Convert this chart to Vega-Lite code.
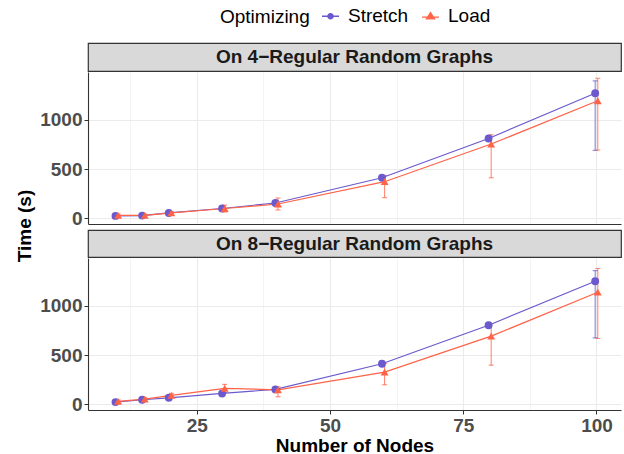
{
  "$schema": "https://vega.github.io/schema/vega-lite/v6.json",
  "padding": {"left": 15, "top": 6, "right": 2, "bottom": 2},
  "config": {
    "font": "Liberation Sans",
    "view": {"stroke": null},
    "axis": {"labelFont": "Liberation Sans", "labelFontSize": 19, "labelFontWeight": "bold", "labelColor": "#4D4D4D", "titleFont": "Liberation Sans", "titleFontSize": 19, "titleFontWeight": "bold", "titleColor": "#000000", "domainColor": "#333333", "domainWidth": 1.1, "tickColor": "#333333", "tickSize": 4, "gridColor": "#EBEBEB"},
    "legend": {"labelFont": "Liberation Sans", "titleFont": "Liberation Sans"}
  },
  "datasets": {
    "d": [
      {"graph": "4", "nodes": 10, "method": "Stretch", "time": 25, "lower": 15, "upper": 35},
      {"graph": "4", "nodes": 15, "method": "Stretch", "time": 28, "lower": 20, "upper": 36},
      {"graph": "4", "nodes": 20, "method": "Stretch", "time": 55, "lower": 45, "upper": 65},
      {"graph": "4", "nodes": 30, "method": "Stretch", "time": 100, "lower": 85, "upper": 115},
      {"graph": "4", "nodes": 40, "method": "Stretch", "time": 156, "lower": 140, "upper": 172},
      {"graph": "4", "nodes": 60, "method": "Stretch", "time": 412, "lower": 395, "upper": 430},
      {"graph": "4", "nodes": 80, "method": "Stretch", "time": 811, "lower": 785, "upper": 838},
      {"graph": "4", "nodes": 100, "method": "Stretch", "time": 1270, "lower": 690, "upper": 1395},
      {"graph": "4", "nodes": 10, "method": "Load", "time": 30, "lower": 15, "upper": 45},
      {"graph": "4", "nodes": 15, "method": "Load", "time": 30, "lower": 18, "upper": 42},
      {"graph": "4", "nodes": 20, "method": "Load", "time": 55, "lower": 40, "upper": 70},
      {"graph": "4", "nodes": 30, "method": "Load", "time": 100, "lower": 65, "upper": 135},
      {"graph": "4", "nodes": 40, "method": "Load", "time": 146, "lower": 85, "upper": 207},
      {"graph": "4", "nodes": 60, "method": "Load", "time": 372, "lower": 210, "upper": 435},
      {"graph": "4", "nodes": 80, "method": "Load", "time": 754, "lower": 412, "upper": 848},
      {"graph": "4", "nodes": 100, "method": "Load", "time": 1193, "lower": 693, "upper": 1422},
      {"graph": "8", "nodes": 10, "method": "Stretch", "time": 23, "lower": 13, "upper": 33},
      {"graph": "8", "nodes": 15, "method": "Stretch", "time": 47, "lower": 37, "upper": 57},
      {"graph": "8", "nodes": 20, "method": "Stretch", "time": 67, "lower": 55, "upper": 80},
      {"graph": "8", "nodes": 30, "method": "Stretch", "time": 111, "lower": 90, "upper": 130},
      {"graph": "8", "nodes": 40, "method": "Stretch", "time": 152, "lower": 135, "upper": 170},
      {"graph": "8", "nodes": 60, "method": "Stretch", "time": 412, "lower": 385, "upper": 440},
      {"graph": "8", "nodes": 80, "method": "Stretch", "time": 803, "lower": 780, "upper": 830},
      {"graph": "8", "nodes": 100, "method": "Stretch", "time": 1249, "lower": 675, "upper": 1357},
      {"graph": "8", "nodes": 10, "method": "Load", "time": 30, "lower": 15, "upper": 45},
      {"graph": "8", "nodes": 15, "method": "Load", "time": 54, "lower": 40, "upper": 68},
      {"graph": "8", "nodes": 20, "method": "Load", "time": 91, "lower": 70, "upper": 112},
      {"graph": "8", "nodes": 30, "method": "Load", "time": 162, "lower": 120, "upper": 203},
      {"graph": "8", "nodes": 40, "method": "Load", "time": 148, "lower": 77, "upper": 178},
      {"graph": "8", "nodes": 60, "method": "Load", "time": 327, "lower": 199, "upper": 415},
      {"graph": "8", "nodes": 80, "method": "Load", "time": 692, "lower": 398, "upper": 820},
      {"graph": "8", "nodes": 100, "method": "Load", "time": 1138, "lower": 669, "upper": 1378}
    ]
  },
  "spacing": 4,
  "hconcat": [
    {
      "width": 20, "height": 366,
      "data": {"values": [{"label": "Time (s)"}]},
      "mark": {"type": "text", "fontSize": 19, "fontWeight": "bold", "color": "#000000", "angle": 270},
      "encoding": {"text": {"field": "label", "type": "nominal"}}
    },
    {
      "spacing": 0,
      "vconcat": [
        {
          "width": 533, "height": 28,
          "view": {"fill": "#D9D9D9", "stroke": "#333333", "strokeWidth": 1.2},
          "data": {"values": [{"label": "On 4−Regular Random Graphs"}]},
          "mark": {"type": "text", "fontSize": 19, "fontWeight": "bold", "color": "#1A1A1A"},
          "encoding": {"text": {"field": "label", "type": "nominal"}}
        },
        {
          "width": 533, "height": 152,
          "data": {"name": "d"},
          "transform": [{"filter": "datum.graph === '4'"}],
          "encoding": {
            "x": {"field": "nodes", "type": "quantitative", "scale": {"domain": [4.6, 104.6], "nice": false, "zero": false},
              "axis": {"values": [12.5, 25, 37.5, 50, 62.5, 75, 87.5, 100], "labels": false, "tickSize": 4, "tickColor": "rgba(0,0,0,0)", "title": null,
                "gridWidth": {"condition": {"test": "datum.value % 25 === 0", "value": 1.1}, "value": 0.55}}},
            "color": {"field": "method", "type": "nominal", "scale": {"domain": ["Stretch", "Load"], "range": ["#6A5ACD", "#FF6347"]},
              "legend": {"orient": "none", "legendX": 205, "legendY": -36.5, "direction": "horizontal", "titleOrient": "left", "title": "Optimizing",
                "titleFontSize": 19, "titleFontWeight": "normal", "titleColor": "#000000", "labelFontSize": 19, "labelColor": "#000000",
                "symbolSize": 289, "symbolStrokeWidth": 1.3, "labelOffset": 8, "columnPadding": 10, "titlePadding": 11, "padding": 0,
                "encode": {"symbols": {"update": {
                  "shape": {"signal": "datum.value === 'Stretch' ? 'M-1,0H1M-0.31,0A0.31,0.31 0 1,0 0.31,0A0.31,0.31 0 1,0 -0.31,0Z' : 'M-1,0.1H1M0,-0.42L0.47,0.3L-0.47,0.3Z'"},
                  "stroke": {"signal": "datum.value === 'Stretch' ? '#6A5ACD' : '#FF6347'"}}}}}}
          },
          "layer": [
            {"mark": {"type": "rule", "opacity": 0.75, "strokeWidth": 1.1, "xOffset": {"expr": "datum.method === 'Stretch' ? -1.3 : 1.3"}},
             "encoding": {"y": {"field": "lower", "type": "quantitative", "scale": {"domain": [-57, 1485], "nice": false, "zero": false},
               "axis": {"values": [0, 250, 500, 750, 1000, 1250], "format": "d", "labelExpr": "datum.value % 500 === 0 ? datum.label : ''",
                 "tickOpacity": {"condition": {"test": "datum.value % 500 === 0", "value": 1}, "value": 0},
                 "gridWidth": {"condition": {"test": "datum.value % 500 === 0", "value": 1.1}, "value": 0.55},
                 "title": null, "labelPadding": 2}},
               "y2": {"field": "upper"}}},
            {"mark": {"type": "tick", "orient": "horizontal", "opacity": 0.75, "size": 5, "thickness": 1.1, "xOffset": {"expr": "datum.method === 'Stretch' ? -1.3 : 1.3"}},
             "encoding": {"y": {"field": "lower", "type": "quantitative"}}},
            {"mark": {"type": "tick", "orient": "horizontal", "opacity": 0.75, "size": 5, "thickness": 1.1, "xOffset": {"expr": "datum.method === 'Stretch' ? -1.3 : 1.3"}},
             "encoding": {"y": {"field": "upper", "type": "quantitative"}}},
            {"mark": {"type": "line", "strokeWidth": 1.2, "xOffset": {"expr": "datum.method === 'Stretch' ? -1.3 : 1.3"}},
             "encoding": {"y": {"field": "time", "type": "quantitative"}}},
            {"mark": {"type": "point", "filled": true, "opacity": 1, "size": 62, "xOffset": {"expr": "datum.method === 'Stretch' ? -1.3 : 1.3"}},
             "encoding": {"y": {"field": "time", "type": "quantitative"},
               "shape": {"condition": {"test": "datum.method === 'Stretch'", "value": "circle"}, "value": "triangle-up"}}}
          ]
        },
        {
          "width": 533, "height": 27,
          "view": {"fill": "#D9D9D9", "stroke": "#333333", "strokeWidth": 1.2},
          "data": {"values": [{"label": "On 8−Regular Random Graphs"}]},
          "mark": {"type": "text", "fontSize": 19, "fontWeight": "bold", "color": "#1A1A1A"},
          "encoding": {"text": {"field": "label", "type": "nominal"}}
        },
        {
          "width": 533, "height": 152,
          "data": {"name": "d"},
          "transform": [{"filter": "datum.graph === '8'"}],
          "encoding": {
            "x": {"field": "nodes", "type": "quantitative", "scale": {"domain": [4.6, 104.6], "nice": false, "zero": false},
              "axis": {"values": [12.5, 25, 37.5, 50, 62.5, 75, 87.5, 100], "format": "d", "labelExpr": "datum.value % 25 === 0 ? datum.label : ''",
                "tickOpacity": {"condition": {"test": "datum.value % 25 === 0", "value": 1}, "value": 0},
                "gridWidth": {"condition": {"test": "datum.value % 25 === 0", "value": 1.1}, "value": 0.55},
                "title": "Number of Nodes", "titlePadding": 1, "labelPadding": 2}},
            "color": {"field": "method", "type": "nominal", "scale": {"domain": ["Stretch", "Load"], "range": ["#6A5ACD", "#FF6347"]},
              "legend": {"orient": "none", "legendX": 205, "legendY": -36.5, "direction": "horizontal", "titleOrient": "left", "title": "Optimizing",
                "titleFontSize": 19, "titleFontWeight": "normal", "titleColor": "#000000", "labelFontSize": 19, "labelColor": "#000000",
                "symbolSize": 289, "symbolStrokeWidth": 1.3, "labelOffset": 8, "columnPadding": 10, "titlePadding": 11, "padding": 0,
                "encode": {"symbols": {"update": {
                  "shape": {"signal": "datum.value === 'Stretch' ? 'M-1,0H1M-0.31,0A0.31,0.31 0 1,0 0.31,0A0.31,0.31 0 1,0 -0.31,0Z' : 'M-1,0.1H1M0,-0.42L0.47,0.3L-0.47,0.3Z'"},
                  "stroke": {"signal": "datum.value === 'Stretch' ? '#6A5ACD' : '#FF6347'"}}}}}}
          },
          "layer": [
            {"mark": {"type": "rule", "opacity": 0.75, "strokeWidth": 1.1, "xOffset": {"expr": "datum.method === 'Stretch' ? -1.3 : 1.3"}},
             "encoding": {"y": {"field": "lower", "type": "quantitative", "scale": {"domain": [-57, 1485], "nice": false, "zero": false},
               "axis": {"values": [0, 250, 500, 750, 1000, 1250], "format": "d", "labelExpr": "datum.value % 500 === 0 ? datum.label : ''",
                 "tickOpacity": {"condition": {"test": "datum.value % 500 === 0", "value": 1}, "value": 0},
                 "gridWidth": {"condition": {"test": "datum.value % 500 === 0", "value": 1.1}, "value": 0.55},
                 "title": null, "labelPadding": 2}},
               "y2": {"field": "upper"}}},
            {"mark": {"type": "tick", "orient": "horizontal", "opacity": 0.75, "size": 5, "thickness": 1.1, "xOffset": {"expr": "datum.method === 'Stretch' ? -1.3 : 1.3"}},
             "encoding": {"y": {"field": "lower", "type": "quantitative"}}},
            {"mark": {"type": "tick", "orient": "horizontal", "opacity": 0.75, "size": 5, "thickness": 1.1, "xOffset": {"expr": "datum.method === 'Stretch' ? -1.3 : 1.3"}},
             "encoding": {"y": {"field": "upper", "type": "quantitative"}}},
            {"mark": {"type": "line", "strokeWidth": 1.2, "xOffset": {"expr": "datum.method === 'Stretch' ? -1.3 : 1.3"}},
             "encoding": {"y": {"field": "time", "type": "quantitative"}}},
            {"mark": {"type": "point", "filled": true, "opacity": 1, "size": 62, "xOffset": {"expr": "datum.method === 'Stretch' ? -1.3 : 1.3"}},
             "encoding": {"y": {"field": "time", "type": "quantitative"},
               "shape": {"condition": {"test": "datum.method === 'Stretch'", "value": "circle"}, "value": "triangle-up"}}}
          ]
        }
      ]
    }
  ]
}
